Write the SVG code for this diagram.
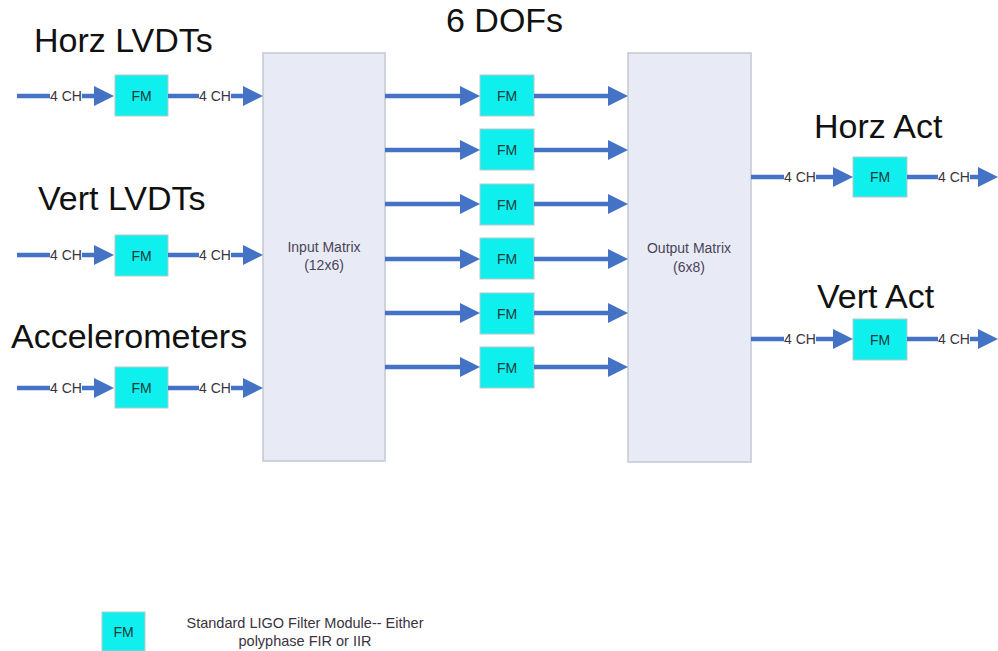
<svg xmlns="http://www.w3.org/2000/svg" width="998" height="651" viewBox="0 0 998 651">
  <defs>
    <marker id="head" markerUnits="userSpaceOnUse" markerWidth="20" markerHeight="20" refX="0" refY="10" orient="auto" viewBox="0 0 20 20">
      <path d="M0,0 L20,10 L0,20 z" fill="#4472c4"/>
    </marker>
    <style>
      .title { font-family: "Liberation Sans", Arial, sans-serif; font-size: 34px; fill: #111; }
      .small { font-family: "Liberation Sans", Arial, sans-serif; font-size: 14.5px; fill: #3a3340; }
      .ch { font-family: "Liberation Sans", Arial, sans-serif; font-size: 14px; fill: #3a3340; }
      .fm rect { fill: #0ff0ee; stroke: #b8c8c8; stroke-width: 1; }
      .fm text { font-family: "Liberation Sans", Arial, sans-serif; font-size: 14px; fill: #1a3a3a; text-anchor: middle; }
      .matrix rect { fill: #e8ebf6; stroke: #c4c8d2; stroke-width: 1.5; }
      .matrix text { font-family: "Liberation Sans", Arial, sans-serif; font-size: 14px; fill: #4a4458; text-anchor: middle; }
      .wire { stroke: #4472c4; stroke-width: 4.5; fill: none; }
      .arrow { stroke: #4472c4; stroke-width: 4.5; fill: none; marker-end: url(#head); }
    </style>
  </defs>
  <rect width="998" height="651" fill="#ffffff"/>

  <!-- group titles -->
  <text class="title" x="34" y="52">Horz LVDTs</text>
  <text class="title" x="446" y="32">6 DOFs</text>
  <text class="title" x="38" y="210">Vert LVDTs</text>
  <text class="title" x="11" y="348">Accelerometers</text>
  <text class="title" x="814" y="138">Horz Act</text>
  <text class="title" x="817" y="308">Vert Act</text>

  <!-- matrices -->
  <g id="input-matrix" class="matrix">
    <rect x="263" y="53" width="122" height="408"/>
    <text x="324" y="252">Input Matrix</text>
    <text x="324" y="270">(12x6)</text>
  </g>
  <g id="output-matrix" class="matrix">
    <rect x="628" y="53" width="123" height="409"/>
    <text x="689" y="253">Output Matrix</text>
    <text x="689" y="272">(6x8)</text>
  </g>

  <!-- filter modules, sensor side -->
  <g id="fm-horz-lvdt" class="fm"><rect x="115" y="75" width="53" height="41"/><text x="141.5" y="101">FM</text></g>
  <g id="fm-vert-lvdt" class="fm"><rect x="115" y="235" width="53" height="41"/><text x="141.5" y="261">FM</text></g>
  <g id="fm-accel" class="fm"><rect x="115" y="367" width="53" height="41"/><text x="141.5" y="393">FM</text></g>

  <!-- filter modules, DOF stage -->
  <g id="fm-dof1" class="fm"><rect x="480" y="75" width="54" height="41"/><text x="507" y="101">FM</text></g>
  <g id="fm-dof2" class="fm"><rect x="480" y="129" width="54" height="41"/><text x="507" y="155">FM</text></g>
  <g id="fm-dof3" class="fm"><rect x="480" y="184" width="54" height="41"/><text x="507" y="210">FM</text></g>
  <g id="fm-dof4" class="fm"><rect x="480" y="238" width="54" height="41"/><text x="507" y="264">FM</text></g>
  <g id="fm-dof5" class="fm"><rect x="480" y="293" width="54" height="41"/><text x="507" y="319">FM</text></g>
  <g id="fm-dof6" class="fm"><rect x="480" y="347" width="54" height="41"/><text x="507" y="373">FM</text></g>

  <!-- filter modules, actuator side -->
  <g id="fm-horz-act" class="fm"><rect x="853" y="157" width="54" height="40"/><text x="880" y="182">FM</text></g>
  <g id="fm-vert-act" class="fm"><rect x="853" y="319" width="54" height="41"/><text x="880" y="345">FM</text></g>

  <!-- connectors -->
  <g id="connectors">
    <!-- sensor inputs -->
    <line class="wire" x1="17" y1="96" x2="50" y2="96"/>
    <text class="ch" x="50" y="101">4 CH</text>
    <line class="arrow" x1="82" y1="96" x2="94" y2="96"/>
    <line class="wire" x1="168" y1="96" x2="199" y2="96"/>
    <text class="ch" x="199" y="101">4 CH</text>
    <line class="arrow" x1="231" y1="96" x2="243" y2="96"/>

    <line class="wire" x1="17" y1="255" x2="50" y2="255"/>
    <text class="ch" x="50" y="260">4 CH</text>
    <line class="arrow" x1="82" y1="255" x2="94" y2="255"/>
    <line class="wire" x1="168" y1="255" x2="199" y2="255"/>
    <text class="ch" x="199" y="260">4 CH</text>
    <line class="arrow" x1="231" y1="255" x2="243" y2="255"/>

    <line class="wire" x1="17" y1="388" x2="50" y2="388"/>
    <text class="ch" x="50" y="393">4 CH</text>
    <line class="arrow" x1="82" y1="388" x2="94" y2="388"/>
    <line class="wire" x1="168" y1="388" x2="199" y2="388"/>
    <text class="ch" x="199" y="393">4 CH</text>
    <line class="arrow" x1="231" y1="388" x2="243" y2="388"/>

    <!-- DOF paths -->
    <line class="arrow" x1="385" y1="96" x2="460" y2="96"/>
    <line class="arrow" x1="534" y1="96" x2="608" y2="96"/>
    <line class="arrow" x1="385" y1="150" x2="460" y2="150"/>
    <line class="arrow" x1="534" y1="150" x2="608" y2="150"/>
    <line class="arrow" x1="385" y1="204" x2="460" y2="204"/>
    <line class="arrow" x1="534" y1="204" x2="608" y2="204"/>
    <line class="arrow" x1="385" y1="259" x2="460" y2="259"/>
    <line class="arrow" x1="534" y1="259" x2="608" y2="259"/>
    <line class="arrow" x1="385" y1="313" x2="460" y2="313"/>
    <line class="arrow" x1="534" y1="313" x2="608" y2="313"/>
    <line class="arrow" x1="385" y1="367" x2="460" y2="367"/>
    <line class="arrow" x1="534" y1="367" x2="608" y2="367"/>

    <!-- actuator outputs -->
    <line class="wire" x1="751" y1="177" x2="784" y2="177"/>
    <text class="ch" x="784" y="182">4 CH</text>
    <line class="arrow" x1="816" y1="177" x2="833" y2="177"/>
    <line class="wire" x1="907" y1="177" x2="938" y2="177"/>
    <text class="ch" x="938" y="182">4 CH</text>
    <line class="arrow" x1="970" y1="177" x2="978" y2="177"/>

    <line class="wire" x1="751" y1="339" x2="784" y2="339"/>
    <text class="ch" x="784" y="344">4 CH</text>
    <line class="arrow" x1="816" y1="339" x2="833" y2="339"/>
    <line class="wire" x1="907" y1="339" x2="938" y2="339"/>
    <text class="ch" x="938" y="344">4 CH</text>
    <line class="arrow" x1="970" y1="339" x2="978" y2="339"/>
  </g>

  <!-- legend -->
  <g id="legend">
    <g id="legend-fm" class="fm"><rect x="102" y="612" width="43" height="39"/><text x="123.5" y="637">FM</text></g>
    <text class="small" x="305" y="628" text-anchor="middle">Standard LIGO Filter Module-- Either</text>
    <text class="small" x="305" y="646" text-anchor="middle">polyphase FIR or IIR</text>
  </g>
</svg>
